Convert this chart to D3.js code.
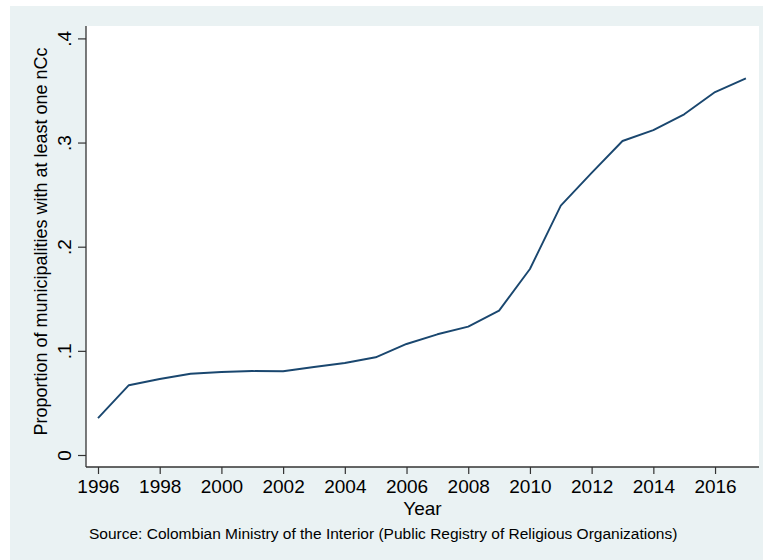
<!DOCTYPE html>
<html><head><meta charset="utf-8">
<script src="https://cdn.jsdelivr.net/npm/d3@7"></script>
<style>body{margin:0;background:#fff;} svg{display:block;}</style>
</head><body>
<script>
const years = [1996,1997,1998,1999,2000,2001,2002,2003,2004,2005,2006,2007,2008,2009,2010,2011,2012,2013,2014,2015,2016,2017];
const values = [0.0355,0.067,0.073,0.078,0.0797,0.0806,0.0804,0.0845,0.0883,0.0938,0.1066,0.1159,0.1232,0.1386,0.1786,0.2394,0.2708,0.3015,0.312,0.3271,0.3485,0.3617];
const xTicks = [1996,1998,2000,2002,2004,2006,2008,2010,2012,2014,2016];
const yTicks = [0,0.1,0.2,0.3,0.4];
const yTickLabels = ["0",".1",".2",".3",".4"];
const xTitle = "Year";
const yTitle = "Proportion of municipalities with at least one nCc";
const note = "Source: Colombian Ministry of the Interior (Public Registry of Religious Organizations)";

const W = 765, H = 560;
const font = "'Liberation Sans', Arial, Helvetica, sans-serif";
const svg = d3.select("body").append("svg").attr("width", W).attr("height", H);
svg.append("rect").attr("x",10).attr("y",6).attr("width",753).attr("height",554).attr("fill","#eaf2f3");
const pr = {l:86, t:26, r:759, b:467};
svg.append("rect").attr("x",pr.l).attr("y",pr.t).attr("width",pr.r-pr.l).attr("height",pr.b-pr.t).attr("fill","#fff");

const x = d3.scaleLinear().domain([1996,2017]).range([98, 745.9]);
const y = d3.scaleLinear().domain([0,0.4]).range([455, 38.4]);

const axisColor = "#333";
// y axis
const ya = svg.append("g").attr("transform",`translate(${pr.l},0)`)
  .call(d3.axisLeft(y).tickValues(yTicks).tickSize(8).tickFormat((d,i)=>yTickLabels[i]));
ya.select(".domain").attr("d",`M0,${pr.t}V${pr.b}`).attr("stroke",axisColor).attr("stroke-width",1.3);
ya.selectAll(".tick line").attr("stroke",axisColor).attr("stroke-width",1.2);
ya.selectAll(".tick text").attr("font-family",font).attr("font-size",19).attr("fill","#000")
  .attr("transform","rotate(-90)").attr("x",0).attr("y",-15).attr("dy",0).attr("text-anchor","middle");

// x axis
const xa = svg.append("g").attr("transform",`translate(0,${pr.b})`)
  .call(d3.axisBottom(x).tickValues(xTicks).tickSize(7).tickFormat(d3.format("d")));
xa.select(".domain").attr("d",`M${pr.l},0H${pr.r}`).attr("stroke",axisColor).attr("stroke-width",1.3);
xa.selectAll(".tick line").attr("stroke",axisColor).attr("stroke-width",1.2);
xa.selectAll(".tick text").attr("font-family",font).attr("font-size",19).attr("fill","#000")
  .attr("y",26).attr("dy",0);

// line
const line = d3.line().x((d,i)=>x(years[i])).y(d=>y(d));
svg.append("path").datum(values).attr("d",line).attr("fill","none")
  .attr("stroke","#1a476f").attr("stroke-width",1.9).attr("stroke-linejoin","round");

// titles
svg.append("text").attr("x",(pr.l+pr.r)/2).attr("y",515).attr("text-anchor","middle")
  .attr("font-family",font).attr("font-size",19).text(xTitle);
svg.append("text").attr("transform",`translate(47,241.5) rotate(-90)`).attr("text-anchor","middle")
  .attr("font-family",font).attr("font-size",18).text(yTitle);
svg.append("text").attr("x",89).attr("y",539).attr("font-family",font).attr("font-size",15.5).text(note);
</script>
</body></html>
